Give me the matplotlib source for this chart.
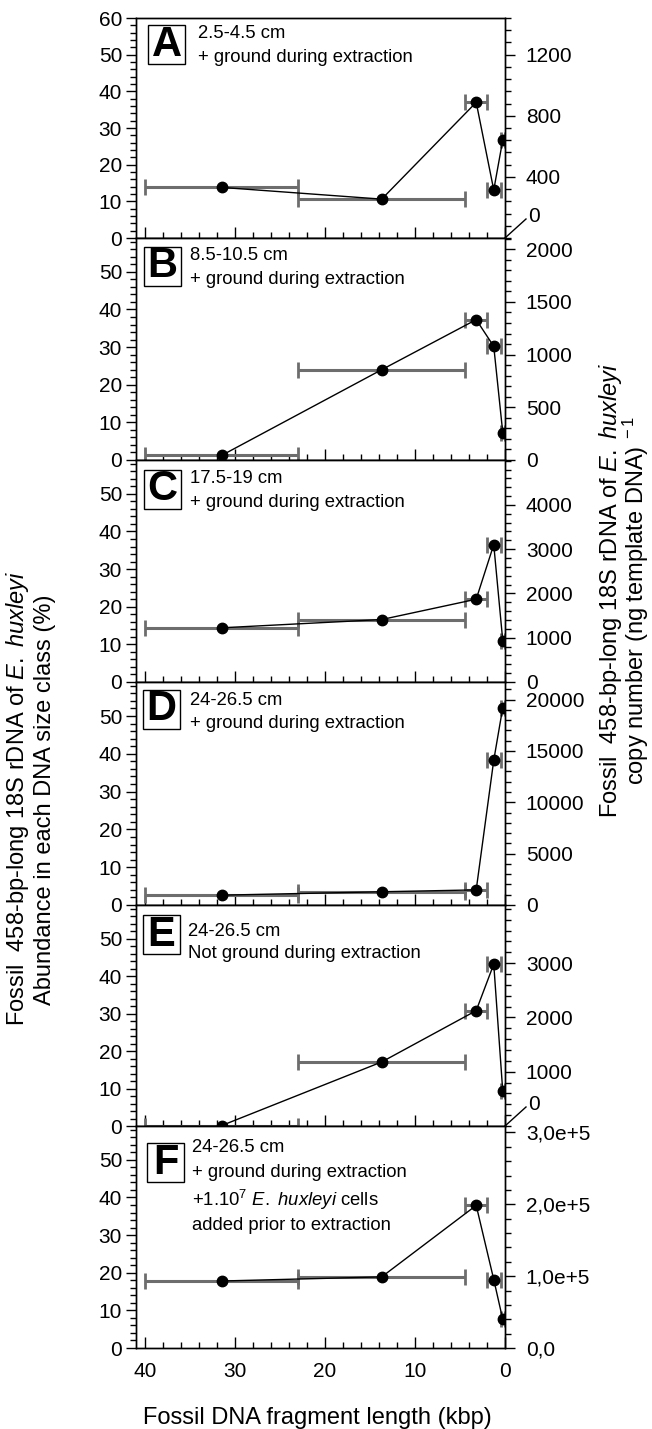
import matplotlib
matplotlib.use("Agg")
import matplotlib.pyplot as plt
from matplotlib.ticker import MultipleLocator, FixedLocator, FixedFormatter
from matplotlib.patches import Rectangle

plt.rcParams['font.family'] = ['Liberation Sans', 'DejaVu Sans']
plt.rcParams['mathtext.fontset'] = 'custom'
plt.rcParams['mathtext.rm'] = 'Liberation Sans'
plt.rcParams['mathtext.it'] = 'Liberation Sans:italic'
plt.rcParams['mathtext.bf'] = 'Liberation Sans:bold'

# ---------------- data ----------------
size_class_low = [23.0, 4.4, 2.0, 0.5, 0.0]
size_class_high = [40.0, 23.0, 4.4, 2.0, 0.5]
fragment_mid = [31.5, 13.7, 3.2, 1.25, 0.25]

panel_letters = ['A', 'B', 'C', 'D', 'E', 'F']
panel_depths = ['2.5-4.5 cm', '8.5-10.5 cm', '17.5-19 cm', '24-26.5 cm', '24-26.5 cm', '24-26.5 cm']
panel_notes = [
    ['+ ground during extraction'],
    ['+ ground during extraction'],
    ['+ ground during extraction'],
    ['+ ground during extraction'],
    ['Not ground during extraction'],
    ['+ ground during extraction',
     r'+1.10$^{7}$ $\it{E.\ huxleyi}$ cells',
     'added prior to extraction'],
]

abund_A = [13.8, 10.6, 37.0, 13.1, 26.7]
abund_B = [1.2, 24.0, 37.3, 30.2, 7.3]
abund_C = [14.4, 16.6, 22.0, 36.5, 11.0]
abund_D = [2.6, 3.5, 4.0, 38.3, 52.2]
abund_E = [0.1, 17.1, 30.8, 43.2, 9.3]
abund_F = [17.8, 18.9, 37.9, 18.2, 7.6]
abundances = [abund_A, abund_B, abund_C, abund_D, abund_E, abund_F]

# copy number per % abundance (right-axis scale)
copy_per_percent = [24.0, 35.7, 85.0, 368.0, 69.0, 5236.0]
left_top = [60, 59, 59, 59, 59, 59]

right_ticks_A = [400, 800, 1200]
right_ticks_B = [0, 500, 1000, 1500, 2000]
right_ticks_C = [0, 1000, 2000, 3000, 4000]
right_ticks_D = [0, 5000, 10000, 15000, 20000]
right_ticks_E = [1000, 2000, 3000]
right_ticks_F = [0, 1e5, 2e5, 3e5]
right_ticks = [right_ticks_A, right_ticks_B, right_ticks_C, right_ticks_D, right_ticks_E, right_ticks_F]
right_labels_F = ['0,0', '1,0e+5', '2,0e+5', '3,0e+5']
right_minor_step = [80, 100, 200, 1000, 200, 2e4]

# ---------------- layout ----------------
W, H = 652, 1429
fig = plt.figure(figsize=(W / 100, H / 100), dpi=100)
ax_left_px, ax_right_px = 136, 505
panel_edges_px = [18, 238, 460, 682, 905, 1126, 1348]

box_left_px = [148, 144, 144, 143, 143, 147]
box_top_px = [7, 9, 10, 8, 10, 17]
text_left_px = [198, 190, 190, 190, 188, 192]
text_first_px = [16, 18, 19, 19, 26, 22]
text_gaps_px = [[23], [24], [24], [23], [23], [24.7, 27.3, 25]]

gray = '#6d6d6d'
axes_w = ax_right_px - ax_left_px
TICK_FS = 15

for i in range(6):
    top, bot = panel_edges_px[i], panel_edges_px[i + 1]
    hpx = bot - top
    ax = fig.add_axes([ax_left_px / W, 1 - bot / H, axes_w / W, hpx / H])
    y = abundances[i]
    xerr = [[m - lo for m, lo in zip(fragment_mid, size_class_low)],
            [hi - m for m, hi in zip(fragment_mid, size_class_high)]]
    ax.errorbar(fragment_mid, y, xerr=xerr, fmt='none', ecolor=gray,
                elinewidth=2.2, capsize=6, capthick=2.0, zorder=2)
    ax.plot(fragment_mid, y, '-o', color='black', lw=1.0, ms=7.5, zorder=3)

    ax.set_xlim(41.0, 0)
    ax.set_ylim(0, left_top[i])
    for s in ax.spines.values():
        s.set_linewidth(1.0)

    ax.xaxis.set_major_locator(MultipleLocator(10))
    ax.xaxis.set_minor_locator(MultipleLocator(2))
    ax.tick_params(axis='x', which='major', direction='in', length=8, width=1,
                   labelsize=TICK_FS, pad=10, labelbottom=(i == 5))
    ax.tick_params(axis='x', which='minor', direction='in', length=4, width=1)
    ax.yaxis.set_major_locator(MultipleLocator(10))
    ax.yaxis.set_minor_locator(MultipleLocator(2))
    ax.tick_params(axis='y', which='major', direction='out', length=7, width=1,
                   labelsize=TICK_FS, pad=3)
    ax.tick_params(axis='y', which='minor', direction='out', length=4, width=1)

    ax2 = ax.twinx()
    ax2.set_ylim(0, left_top[i] * copy_per_percent[i])
    ax2.yaxis.set_major_locator(FixedLocator(right_ticks[i]))
    if i == 5:
        ax2.yaxis.set_major_formatter(FixedFormatter(right_labels_F))
    ax2.yaxis.set_minor_locator(MultipleLocator(right_minor_step[i]))
    ax2.tick_params(axis='y', which='major', direction='out', length=7, width=1,
                    labelsize=TICK_FS, pad=8)
    ax2.tick_params(axis='y', which='minor', direction='out', length=4, width=1)
    for s in ax2.spines.values():
        s.set_linewidth(1.0)

    if i in (0, 4):
        ax2.plot([1, 1 + 21 / axes_w], [0, 19 / hpx], transform=ax2.transAxes,
                 color='black', lw=1.0, clip_on=False)
        ax2.text(1 + 23 / axes_w, 21 / hpx, '0', transform=ax2.transAxes,
                 ha='left', va='center', fontsize=TICK_FS)

    # panel letter box
    bx = (box_left_px[i] - ax_left_px) / axes_w
    bw = 37 / axes_w
    bh = 39 / hpx
    by = 1 - box_top_px[i] / hpx - bh
    ax.add_patch(Rectangle((bx, by), bw, bh, transform=ax.transAxes, fill=True,
                           facecolor='white', edgecolor='black', lw=1.0, zorder=4))
    ax.text(bx + bw / 2, by + bh / 2, panel_letters[i], transform=ax.transAxes,
            ha='center', va='center', fontsize=30, fontweight='bold', zorder=5)

    tx = (text_left_px[i] - ax_left_px) / axes_w
    ypos = text_first_px[i]
    lines = [panel_depths[i]] + panel_notes[i]
    gaps = text_gaps_px[i]
    for k, line in enumerate(lines):
        ax.text(tx, 1 - ypos / hpx, line, transform=ax.transAxes, ha='left',
                va='center', fontsize=13.3, zorder=5)
        if k < len(gaps):
            ypos += gaps[k]

# axis labels
LAB_FS = 17
fig.text(317 / W, 1 - 1418 / H, 'Fossil DNA fragment length (kbp)', ha='center',
         va='center', fontsize=LAB_FS)
fig.text(18 / W, 1 - 798 / H, r'Fossil  458-bp-long 18S rDNA of $\it{E.\ huxleyi}$',
         rotation=90, ha='center', va='center', fontsize=LAB_FS)
fig.text(45 / W, 1 - 800 / H, 'Abundance in each DNA size class (%)',
         rotation=90, ha='center', va='center', fontsize=LAB_FS)
fig.text(610 / W, 1 - 590 / H, r'Fossil  458-bp-long 18S rDNA of $\it{E.\ huxleyi}$',
         rotation=90, ha='center', va='center', fontsize=LAB_FS)
fig.text(636 / W, 1 - 600 / H, r'copy number (ng template DNA)$^{\ -1}$',
         rotation=90, ha='center', va='center', fontsize=LAB_FS)

fig.savefig('out.png', dpi=100)
